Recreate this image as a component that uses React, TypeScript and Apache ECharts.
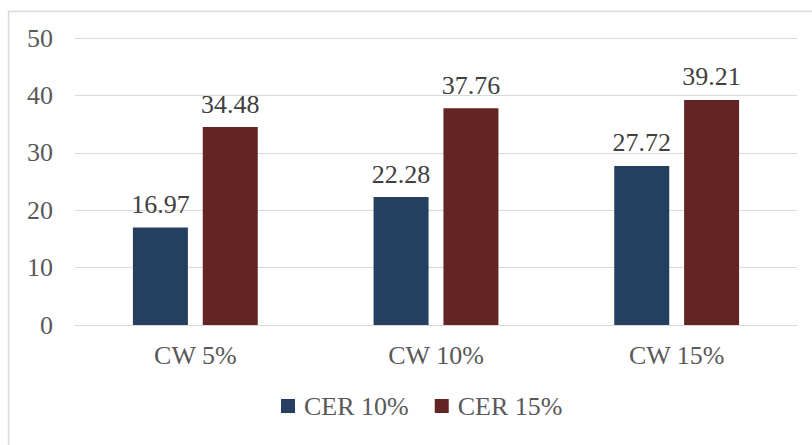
import React, { useEffect, useRef } from "react";
import * as echarts from "echarts";

const categories = ["CW 5%", "CW 10%", "CW 15%"];
const cer10 = [16.97, 22.28, 27.72];
const cer15 = [34.48, 37.76, 39.21];
const seriesNames = ["CER 10%", "CER 15%"];

const FONT = "Liberation Serif";

export default function App() {
  const ref = useRef<HTMLDivElement>(null);
  useEffect(() => {
    if (!ref.current) return;
    const chart = echarts.init(ref.current, null, { renderer: "svg" });
    const label = {
      show: true,
      position: "top" as const,
      distance: 10,
      fontFamily: FONT,
      fontSize: 26,
      color: "#404040",
      formatter: (p: any) => p.value.toFixed(2),
    };
    chart.setOption({
      animation: false,
      backgroundColor: "#ffffff",
      textStyle: { fontFamily: FONT },
      graphic: [
        {
          type: "rect",
          shape: { x: 8.5, y: 11.5, width: 900, height: 500 },
          style: { fill: "none", stroke: "#d9d9d9", lineWidth: 1.5 },
          silent: true,
          z: -1,
        },
      ],
      grid: { left: 75, right: 15, top: 38, bottom: 120 },
      legend: {
        data: seriesNames,
        bottom: 21,
        left: 276,
        itemWidth: 14,
        itemHeight: 14,
        itemGap: 26,
        icon: "rect",
        textStyle: { fontFamily: FONT, fontSize: 26, color: "#595959", padding: [0, 0, 0, 4] },
      },
      xAxis: {
        type: "category",
        data: categories,
        axisTick: { show: false },
        axisLine: { lineStyle: { color: "#d9d9d9", width: 1 } },
        axisLabel: { fontFamily: FONT, fontSize: 26, color: "#595959", margin: 17 },
      },
      yAxis: {
        type: "value",
        min: 0,
        max: 50,
        interval: 10,
        axisLine: { show: false },
        axisTick: { show: false },
        splitLine: { lineStyle: { color: "#d9d9d9", width: 1 } },
        axisLabel: { fontFamily: FONT, fontSize: 26, color: "#595959", margin: 22 },
      },
      series: [
        {
          name: seriesNames[0],
          type: "bar",
          data: cer10,
          barWidth: 55,
          barGap: "27%",
          itemStyle: { color: "#243F60" },
          label,
        },
        {
          name: seriesNames[1],
          type: "bar",
          data: cer15,
          barWidth: 55,
          barGap: "27%",
          itemStyle: { color: "#632523" },
          label,
        },
      ],
    });
    return () => chart.dispose();
  }, []);
  return (
    <div
      ref={ref}
      style={{ position: "fixed", left: 0, top: 0, width: 812, height: 445 }}
    />
  );
}
